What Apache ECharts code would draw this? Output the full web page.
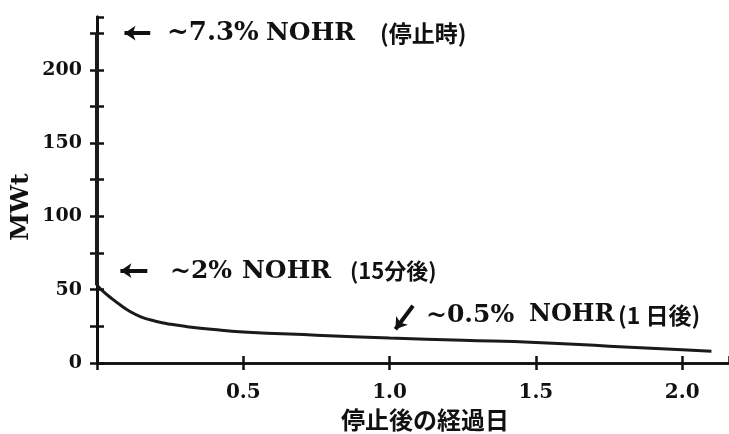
<!DOCTYPE html>
<html lang="ja">
<head>
<meta charset="UTF-8">
<title>decay heat</title>
<script src="https://cdn.jsdelivr.net/npm/echarts@6/dist/echarts.min.js"></script>
<style>
  body { margin: 0; background: #fff; }
  #main { width: 729px; height: 434px; }
</style>
</head>
<body>
<div id="main"></div>
<script>
// 停止後の経過日 (days) vs 崩壊熱 (MWt)
var days  = [0, 0.02, 0.05, 0.08, 0.11, 0.15, 0.2, 0.25, 0.3, 0.4, 0.5, 0.75, 1.0, 1.25, 1.5, 1.75, 2.0, 2.1];
var mwt   = [53, 49, 44, 39.5, 35.5, 31.5, 28.5, 26.5, 25, 22.8, 21.2, 19, 17, 15.5, 14, 11.5, 9, 8];
// value at shutdown (7.3% NOHR) and at 15 min, drawn along the axis
var spikeDays = [0, 0];
var spikeMwt  = [225, 53];
var yLabelStep = 50;

// annotation arrows: [fromX, fromY, toX, toY] in data units
var arrows = [
    [0.182, 225, 0.094, 225],
    [0.172, 63, 0.08, 63],
    [1.08, 39, 1.02, 23]
];

var curve = days.map(function (d, i) { return [d, mwt[i]]; });
var spike = spikeDays.map(function (d, i) { return [d, spikeMwt[i]]; });
var serif = '"DejaVu Serif", "Noto Sans CJK JP", serif';
var jp = '"Noto Sans CJK JP", sans-serif';

var chart = echarts.init(document.getElementById('main'));

function xAxisCfg(inside) {
    return {
        type: 'value', position: 'bottom', min: 0, max: 2.16, interval: 0.5,
        axisLine: { show: true, lineStyle: { color: '#111', width: 2.5 } },
        axisTick: { show: true, inside: inside, length: 7, lineStyle: { color: '#111', width: 2.5 } },
        splitLine: { show: false },
        axisLabel: {
            show: !inside, margin: 20, fontSize: 20, fontWeight: 'bold', color: '#111', fontFamily: serif,
            showMaxLabel: false,
            formatter: function (v) { return v === 0 ? '' : v.toFixed(1); }
        },
        name: inside ? '' : '停止後の経過日',
        nameLocation: 'middle', nameGap: 44,
        nameTextStyle: { fontSize: 24, fontWeight: 'bold', color: '#111', fontFamily: jp, padding: [0, 0, 0, 24] }
    };
}

function yAxisCfg(inside) {
    return {
        type: 'value', position: 'left', min: 0, max: 236, interval: 25,
        axisLine: { show: true, lineStyle: { color: '#111', width: 3 } },
        axisTick: { show: true, inside: inside, length: 7, lineStyle: { color: '#111', width: 2.5 } },
        splitLine: { show: false },
        axisLabel: {
            show: !inside, margin: 15, fontSize: 19, fontWeight: 'bold', color: '#111', fontFamily: serif,
            showMaxLabel: false,
            formatter: function (v) { return v % yLabelStep === 0 ? String(v) : ''; }
        }
    };
}

function note(x, y, text, size, font) {
    return {
        type: 'text', x: x, y: y,
        style: { text: text, fill: '#111', fontSize: size, fontWeight: 'bold',
                 fontFamily: font || serif, verticalAlign: 'middle' }
    };
}

var option = {
    backgroundColor: '#fff',
    animation: false,
    grid: { left: 97, right: 0, top: 17, bottom: 71, outerBoundsMode: 'none' },
    xAxis: [xAxisCfg(false), xAxisCfg(true)],
    yAxis: [yAxisCfg(false), yAxisCfg(true)],
    series: [
        {
            type: 'line', data: curve, smooth: true, showSymbol: false,
            lineStyle: { color: '#1a1a1a', width: 3 }
        },
        {
            type: 'line', data: spike, showSymbol: false,
            lineStyle: { color: '#1a1a1a', width: 4 }
        },
        {
            type: 'lines', coordinateSystem: 'cartesian2d',
            data: arrows.map(function (a) { return { coords: [[a[0], a[1]], [a[2], a[3]]] }; }),
            symbol: ['none', 'arrow'], symbolSize: 11,
            lineStyle: { color: '#111', width: 4, opacity: 1 }
        }
    ],
    graphic: [
        {
            type: 'text', x: 21, y: 207, rotation: Math.PI / 2,
            style: { text: 'MWt', fill: '#111', fontSize: 25, fontWeight: 'bold', fontFamily: serif,
                     align: 'center', verticalAlign: 'middle' }
        },
        note(167, 33, '~7.3%', 26),
        note(266, 33, 'NOHR', 25),
        note(380, 33, '(停止時)', 23, jp),
        note(170, 271, '~2%', 25),
        note(242, 271, 'NOHR', 25),
        note(350, 271, '(15分後)', 22, jp),
        note(426, 315, '~0.5%', 25),
        note(529, 315, 'NOHR', 24),
        note(618, 315, '(1 日後)', 23, jp)
    ]
};

chart.setOption(option);
</script>
</body>
</html>
